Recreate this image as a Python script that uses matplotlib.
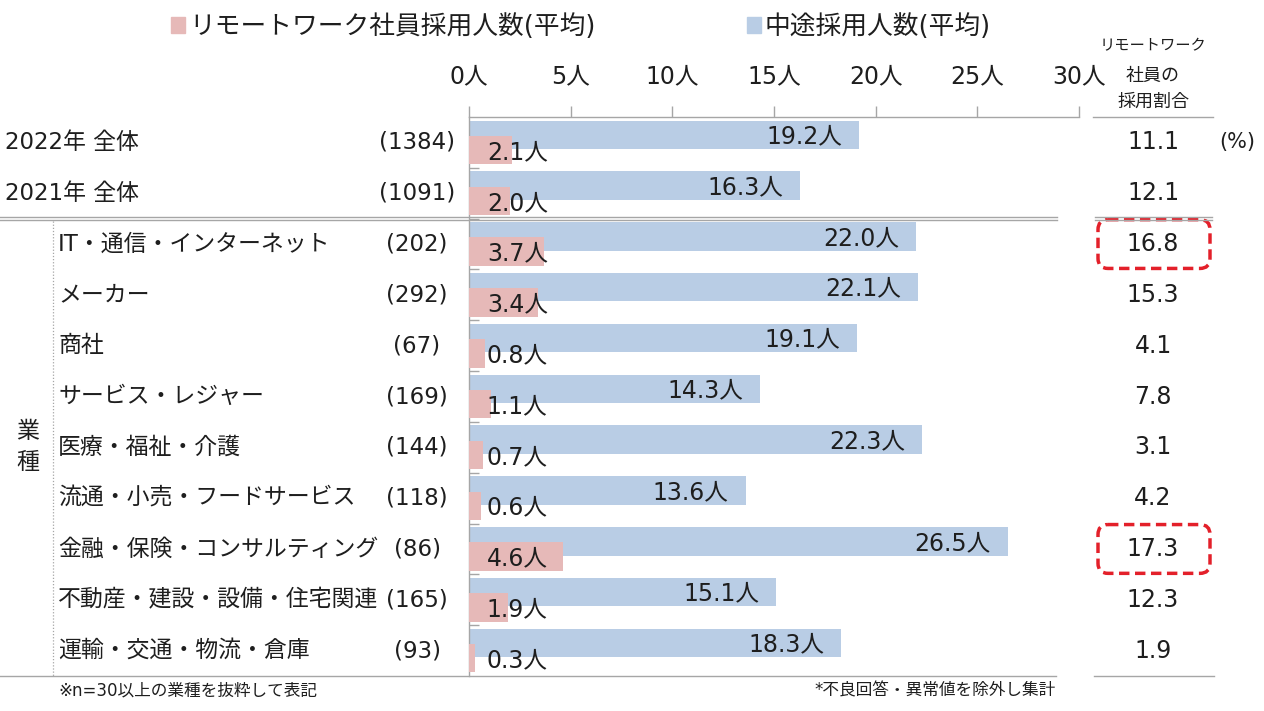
import numpy as np
import matplotlib.pyplot as plt
from matplotlib import transforms
from matplotlib.lines import Line2D
from matplotlib.patches import Patch, FancyBboxPatch

plt.rcParams['font.family'] = ['DejaVu Sans', 'Noto Sans CJK JP']

# data
groups = ['2022年 全体', '2021年 全体', 'IT・通信・インターネット', 'メーカー', '商社',
          'サービス・レジャー', '医療・福祉・介護', '流通・小売・フードサービス',
          '金融・保険・コンサルティング', '不動産・建設・設備・住宅関連', '運輸・交通・物流・倉庫']
counts = [1384, 1091, 202, 292, 67, 169, 144, 118, 86, 165, 93]
midcareer = [19.2, 16.3, 22.0, 22.1, 19.1, 14.3, 22.3, 13.6, 26.5, 15.1, 18.3]
remote = [2.1, 2.0, 3.7, 3.4, 0.8, 1.1, 0.7, 0.6, 4.6, 1.9, 0.3]
remote_ratio = [11.1, 12.1, 16.8, 15.3, 4.1, 7.8, 3.1, 4.2, 17.3, 12.3, 1.9]
highlight = ['IT・通信・インターネット', '金融・保険・コンサルティング']
series_labels = ['リモートワーク社員採用人数(平均)', '中途採用人数(平均)']
ratio_header = ['リモートワーク', '社員の', '採用割合']
x_ticks = [0, 5, 10, 15, 20, 25, 30]
note_left = '※n=30以上の業種を抜粋して表記'
note_right = '*不良回答・異常値を除外し集計'

BLUE = '#B9CDE5'
PINK = '#E6B9B8'
GREY = '#A6A6A6'
TXT = '#1e1e1e'
RED = '#E3202A'

W, H = 1264, 711
def fx(px):
    return px / W
def fy(px):
    return 1 - px / H

fig = plt.figure(figsize=(W / 100, H / 100), dpi=100)
top, bottom = 117, 676
ax = fig.add_axes([fx(469), fy(bottom), (1079 - 469) / W, (bottom - top) / H])

n = len(groups)
y = np.arange(n)
ax.barh(y - 0.15, midcareer, height=0.56, color=BLUE, zorder=2)
ax.barh(y + 0.15, remote, height=0.56, color=PINK, zorder=3)
ax.set_xlim(0, 30)
ax.set_ylim(n - 0.5, -0.5)

ax.xaxis.tick_top()
ax.set_xticks(x_ticks)
ax.set_xticklabels([f'{t}人' for t in x_ticks])
ax.tick_params(axis='x', direction='out', length=8, width=1, color=GREY,
               pad=13, labelsize=17, labelcolor=TXT)
ax.set_yticks(np.arange(n - 1) + 0.5)
ax.set_yticklabels([])
ax.tick_params(axis='y', direction='in', length=7, width=1, color=GREY)
for side in ['right', 'bottom']:
    ax.spines[side].set_visible(False)
for side in ['top', 'left']:
    ax.spines[side].set_color(GREY)
    ax.spines[side].set_linewidth(1)

for i, (m, r) in enumerate(zip(midcareer, remote)):
    ax.text(m - 0.83, i - 0.12, f'{m:.1f}人', ha='right', va='center',
            fontsize=17, color=TXT, zorder=4)
    ax.text(0.88, i + 0.19, f'{r:.1f}人', ha='left', va='center',
            fontsize=17, color=TXT, zorder=4)

# row labels on the left
trans = transforms.blended_transform_factory(fig.transFigure, ax.transData)
for i, (name, c) in enumerate(zip(groups, counts)):
    ax.text(fx(5 if i < 2 else 58), i, name, transform=trans, ha='left',
            va='center', fontsize=16.5, color=TXT)
    ax.text(fx(417), i, f'({c})', transform=trans, ha='center', va='center',
            fontsize=16.5, color=TXT)
ax.text(fx(28), 6, '業\n種', transform=trans, ha='center', va='center',
        fontsize=16.5, color=TXT, linespacing=1.45)

# table lines
def hline(x0, x1, yv, **kw):
    fig.add_artist(Line2D([fx(x0), fx(x1)], [yv, yv], transform=trans, color=GREY, lw=1, **kw))

for off in (-0.032, 0.032):
    hline(0, 1057, 1.5 + off)
    hline(1095, 1212, 1.5 + off)
hline(0, 1056, n - 0.5)
hline(1094, 1214, n - 0.5)
hline(1093, 1213, -0.5)
fig.add_artist(Line2D([fx(53), fx(53)], [1.55, n - 0.5], transform=trans,
                      color=GREY, lw=0.9, ls=(0, (1, 1.5))))

# right column: remote hiring ratio
ax_r = fig.add_axes([fx(1085), fy(bottom), (W - 1085) / W, (bottom - top) / H])
ax_r.set_xlim(1085, W)
ax_r.set_ylim(n - 0.5, -0.5)
ax_r.axis('off')
row_px = (bottom - top) / n
for i, v in enumerate(remote_ratio):
    ax_r.text(1153, i, f'{v:.1f}', ha='center', va='center', fontsize=17, color=TXT)
    if groups[i] in highlight:
        ax_r.add_patch(FancyBboxPatch((1098, i - 0.48), 112, 0.96,
                                      boxstyle='round,pad=0,rounding_size=10',
                                      mutation_aspect=1 / row_px, fill=False,
                                      ec=RED, lw=2.5, ls=(0, (3, 1.6)), clip_on=False))
ax_r.text(1237, 0, '(%)', ha='center', va='center', fontsize=15, color=TXT)
for line, ypx, size in zip(ratio_header, [46, 76, 102], [11, 13, 13]):
    fig.text(fx(1153), fy(ypx), line, ha='center', va='center', fontsize=size, color=TXT)

# legend
handles = [Patch(color=PINK, label=series_labels[0]), Patch(color=BLUE, label=series_labels[1])]
fig.legend(handles=handles, loc='center left', bbox_to_anchor=(fx(171), fy(27)), ncol=2,
           frameon=False, fontsize=18.5, labelcolor=TXT, handlelength=0.55, handleheight=0.55,
           handletextpad=0.15, columnspacing=5.9, borderpad=0, borderaxespad=0)

fig.text(fx(58), fy(690), note_left, ha='left', va='center', fontsize=12, color=TXT)
fig.text(fx(1056), fy(690), note_right, ha='right', va='center', fontsize=12, color=TXT)

fig.savefig('out.png', dpi=100)
